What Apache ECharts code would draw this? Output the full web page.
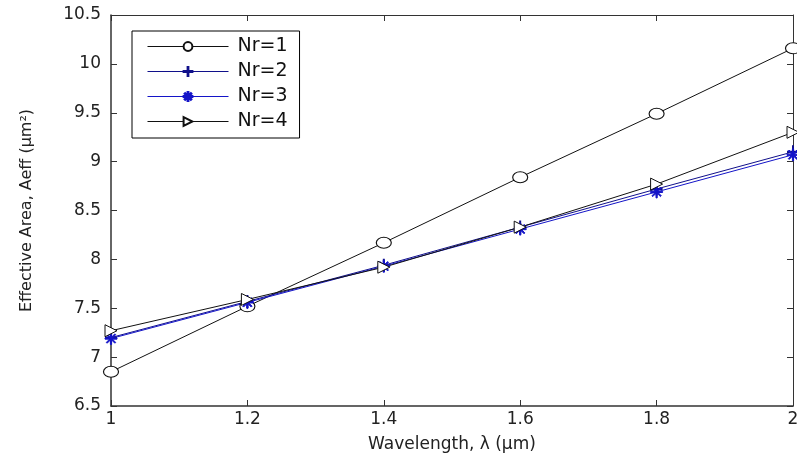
<!DOCTYPE html>
<html><head><meta charset="utf-8">
<script src="https://cdn.jsdelivr.net/npm/echarts@6/dist/echarts.min.js"></script>
<style>html,body{margin:0;padding:0;background:#fff}#c{width:797px;height:454px}</style>
</head><body><div id="c"></div>
<script>
const wavelengths = [1.0, 1.2, 1.4, 1.6, 1.8, 2.0];
const nr1 = [6.85, 7.52, 8.17, 8.84, 9.49, 10.16];
const nr2 = [7.20, 7.57, 7.94, 8.33, 8.72, 9.10];
const nr3 = [7.19, 7.56, 7.93, 8.31, 8.69, 9.07];
const nr4 = [7.27, 7.59, 7.92, 8.33, 8.77, 9.30];
const seriesNames = ['Nr=1', 'Nr=2', 'Nr=3', 'Nr=4'];

const ellipsePath = 'path://M0,5A7.5,5,0,1,1,15,5A7.5,5,0,1,1,0,5Z';
const plusPath = 'path://M-0.09,-1L0.09,-1L0.09,-0.09L1,-0.09L1,0.09L0.09,0.09L0.09,1L-0.09,1L-0.09,0.09L-1,0.09L-1,-0.09L-0.09,-0.09Z';
const starPath = 'path://M-0.1,-1L0.1,-1L0.1,1L-0.1,1Z M-1,-0.1L1,-0.1L1,0.1L-1,0.1Z M-0.78,-0.64L-0.64,-0.78L0.78,0.64L0.64,0.78Z M0.64,-0.78L0.78,-0.64L-0.64,0.78L-0.78,0.64Z';
const triPath = 'path://M0,0L1,0.5L0,1Z';

function mk(name, data, color, symbol, size, fill) {
  return {
    name, type: 'line', data: wavelengths.map((x, i) => [x, data[i]]),
    symbol, symbolSize: size, showAllSymbol: true, symbolKeepAspect: false,
    lineStyle: { color: color, width: 1 },
    itemStyle: { color: fill, borderColor: color, borderWidth: 1 },
    emphasis: { disabled: true }, animation: false, z: 3
  };
}

const chart = echarts.init(document.getElementById('c'), null, { renderer: 'canvas' });
const axisCol = '#333';
const font = 'DejaVu Sans, sans-serif';
chart.setOption({
  backgroundColor: '#fff',
  animation: false,
  grid: { left: 111, right: 4, top: 15, bottom: 48, containLabel: false, outerBoundsMode: 'none' },
  legend: {
    orient: 'vertical', left: 132, top: 31,
    data: seriesNames,
    itemWidth: 81, itemHeight: 11, itemGap: 6,
    padding: [6, 12, 7, 15],
    borderColor: '#000', borderWidth: 1, backgroundColor: '#fff',
    lineStyle: { width: 1 },
    textStyle: { fontSize: 19, color: '#111', fontFamily: font, padding: [0, 0, 0, 4] },
    selectedMode: false
  },
  xAxis: [{
    type: 'value', min: 1, max: 2, interval: 0.2,
    name: 'Wavelength, λ (μm)', nameLocation: 'middle', nameGap: 30,
    nameTextStyle: { fontSize: 17, color: '#222', fontFamily: font },
    axisLine: { lineStyle: { color: axisCol, width: 1.5 } },
    axisTick: { inside: true, length: 6, lineStyle: { color: axisCol } },
    axisLabel: { fontSize: 17, color: '#222', fontFamily: font, margin: 5,
      formatter: v => String(Math.round(v * 10) / 10) },
    splitLine: { show: false }
  }, {
    type: 'value', min: 1, max: 2, interval: 0.2, position: 'top',
    axisLine: { show: true, lineStyle: { color: axisCol, width: 1 } },
    axisTick: { inside: true, length: 6, lineStyle: { color: axisCol } },
    axisLabel: { show: false }, splitLine: { show: false }
  }],
  yAxis: [{
    type: 'value', min: 6.5, max: 10.5, interval: 0.5,
    name: 'Effective Area, Aeff (μm²)', nameLocation: 'middle', nameGap: 76,
    nameTextStyle: { fontSize: 16, color: '#222', fontFamily: font },
    axisLine: { show: true, lineStyle: { color: axisCol, width: 1.5 } },
    axisTick: { show: true, inside: true, length: 6, lineStyle: { color: axisCol } },
    axisLabel: { fontSize: 17, color: '#222', fontFamily: font, margin: 10 },
    splitLine: { show: false }
  }, {
    type: 'value', min: 6.5, max: 10.5, interval: 0.5, position: 'right',
    axisLine: { show: true, lineStyle: { color: axisCol, width: 1 } },
    axisTick: { show: true, inside: true, length: 6, lineStyle: { color: axisCol } },
    axisLabel: { show: false }, splitLine: { show: false }
  }],
  series: [
    mk(seriesNames[0], nr1, '#111', ellipsePath, [15, 11], '#fff'),
    mk(seriesNames[1], nr2, '#10108a', plusPath, [11, 12], '#10108a'),
    mk(seriesNames[2], nr3, '#1414c8', starPath, [12, 12], '#1414c8'),
    mk(seriesNames[3], nr4, '#111', triPath, [12, 12], '#fff')
  ]
});
</script></body></html>
